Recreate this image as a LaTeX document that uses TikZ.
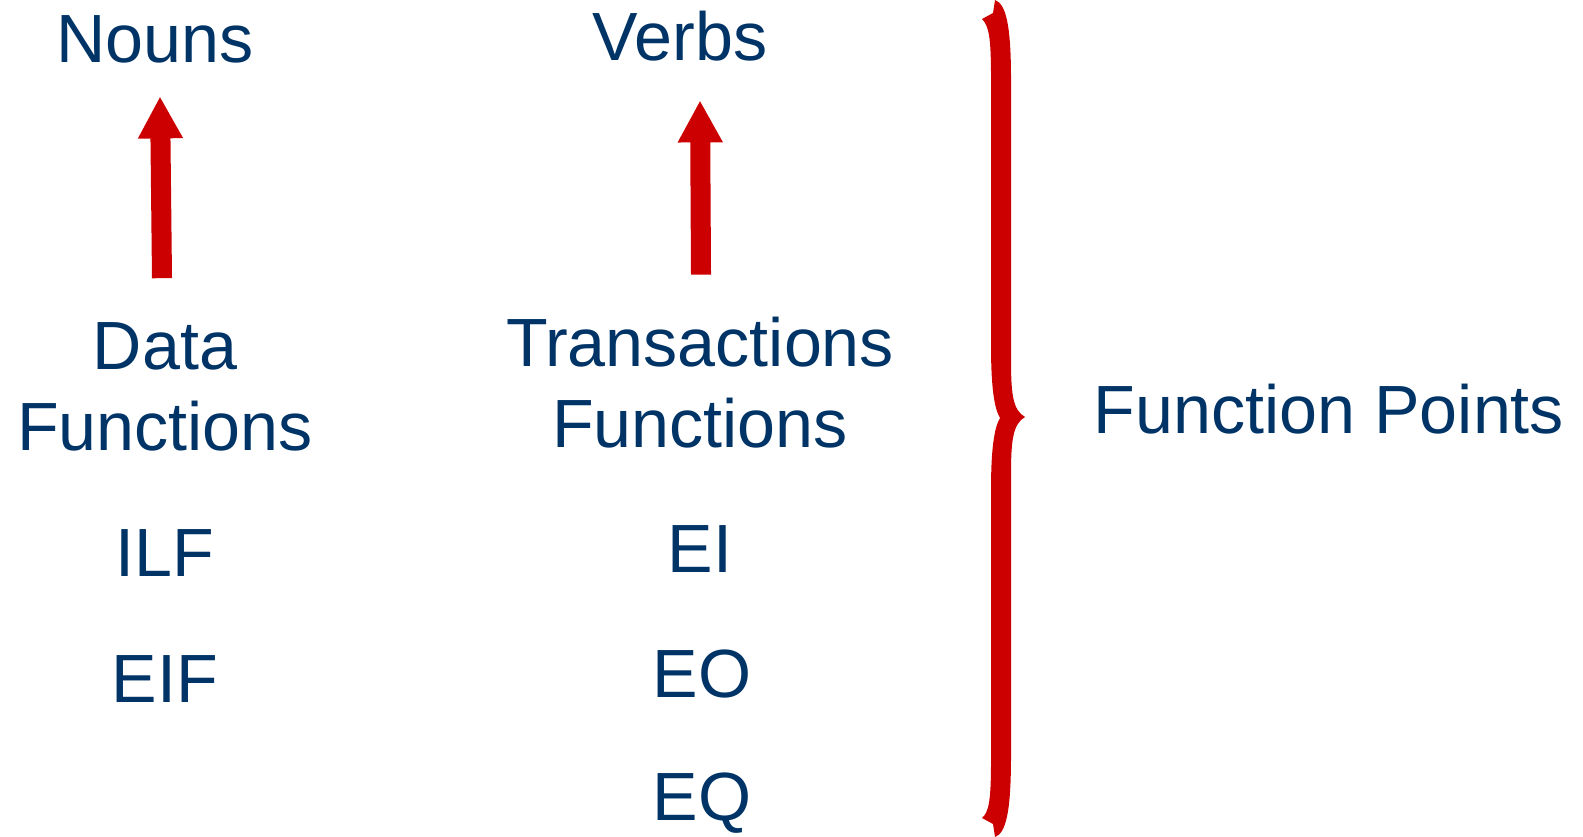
\documentclass[tikz,border=0pt]{standalone}
\usepackage{fontspec}
\setmainfont{Liberation Sans}
\usetikzlibrary{arrows.meta,calc}
\definecolor{fpblue}{HTML}{003366}
\definecolor{fpred}{HTML}{CC0000}
\tikzstyle{label text}=[text=fpblue,inner sep=0pt,anchor=base,align=center,
  font=\fontsize{19.4}{22.8}\selectfont]
\tikzstyle{red arrow}=[draw=fpred,line width=0.2cm,
  -{Triangle[width=0.42cm,length=0.42cm]}]
\begin{document}
\begin{tikzpicture}[x=0.01cm,y=-0.01cm]
  \useasboundingbox (0,0) rectangle (1583,837);
  % left column
  \node[label text] (nouns) at (155,63) {Nouns};
  \node[label text] (datafn) at (165,450) {Data\\Functions};
  \node[label text] (ilf) at (165,576) {ILF};
  \node[label text] (eif) at (165,702) {EIF};
  % right column
  \node[label text] (verbs) at (680,61) {Verbs};
  \node[label text] (transfn) at (700,447) {Transactions\\Functions};
  \node[label text] (ei) at (700,572) {EI};
  \node[label text] (eo) at (702,697) {EO};
  \node[label text] (eq) at (702,820) {EQ};
  \node[label text] (fp) at (1329,433) {Function Points};
  % arrows
  \draw[red arrow] ($(datafn.north)+(-3,-44)$) -- ($(nouns.south)+(5,32)$);
  \draw[red arrow] ($(transfn.north)+(1,-42)$) -- ($(verbs.south)+(20,38)$);
  % brace
  \fill[fpred] (995,0) .. controls (1006,4) and (1011,25) .. (1011,80)
    -- (1011,360) .. controls (1011,395) and (1013,410) .. (1025,417)
    .. controls (1013,424) and (1011,440) .. (1011,474)
    -- (1011,755) .. controls (1011,812) and (1006,833) .. (995,837)
    -- (993,824) -- (982,818) .. controls (989,812) and (991,800) .. (991,760)
    -- (991,490) .. controls (991,450) and (994,428) .. (1000,418)
    .. controls (994,408) and (991,386) .. (991,345)
    -- (991,78) .. controls (991,38) and (989,26) .. (982,19)
    -- (993,13) -- cycle;
\end{tikzpicture}
\end{document}
